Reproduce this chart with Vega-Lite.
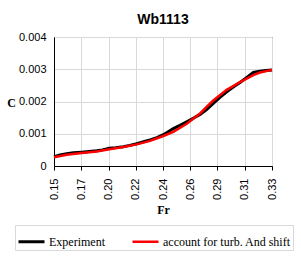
{
  "$schema": "https://vega.github.io/schema/vega-lite/v6.json",
  "width": 218,
  "height": 129,
  "autosize": {"type": "none"},
  "padding": {"left": 54, "top": 37, "right": 29, "bottom": 97},
  "background": "white",
  "title": {"text": "Wb1113", "fontSize": 14, "font": "Liberation Sans", "fontWeight": "bold", "offset": 4, "color": "#000000", "anchor": "middle"},
  "config": {
    "view": {"stroke": "#000000", "strokeWidth": 1},
    "axis": {"gridColor": "#d9d9d9", "gridWidth": 1, "domainColor": "#000000", "labelColor": "#000000", "titleColor": "#000000"}
  },
  "data": {
    "values": [
      {"Series": "Experiment", "Fr": 0.150, "C": 0.00029},
      {"Series": "Experiment", "Fr": 0.155, "C": 0.00034},
      {"Series": "Experiment", "Fr": 0.1605, "C": 0.00038},
      {"Series": "Experiment", "Fr": 0.166, "C": 0.00041},
      {"Series": "Experiment", "Fr": 0.1729, "C": 0.00043},
      {"Series": "Experiment", "Fr": 0.179, "C": 0.00045},
      {"Series": "Experiment", "Fr": 0.1853, "C": 0.00047},
      {"Series": "Experiment", "Fr": 0.190, "C": 0.00050},
      {"Series": "Experiment", "Fr": 0.1957, "C": 0.00055},
      {"Series": "Experiment", "Fr": 0.201, "C": 0.00057},
      {"Series": "Experiment", "Fr": 0.2072, "C": 0.00060},
      {"Series": "Experiment", "Fr": 0.2125, "C": 0.00064},
      {"Series": "Experiment", "Fr": 0.2183, "C": 0.00069},
      {"Series": "Experiment", "Fr": 0.224, "C": 0.00075},
      {"Series": "Experiment", "Fr": 0.2293, "C": 0.00081},
      {"Series": "Experiment", "Fr": 0.235, "C": 0.00088},
      {"Series": "Experiment", "Fr": 0.2403, "C": 0.00097},
      {"Series": "Experiment", "Fr": 0.245, "C": 0.00108},
      {"Series": "Experiment", "Fr": 0.2485, "C": 0.00116},
      {"Series": "Experiment", "Fr": 0.254, "C": 0.00126},
      {"Series": "Experiment", "Fr": 0.2596, "C": 0.00137},
      {"Series": "Experiment", "Fr": 0.265, "C": 0.00148},
      {"Series": "Experiment", "Fr": 0.2706, "C": 0.00160},
      {"Series": "Experiment", "Fr": 0.276, "C": 0.00175},
      {"Series": "Experiment", "Fr": 0.2815, "C": 0.00194},
      {"Series": "Experiment", "Fr": 0.287, "C": 0.00213},
      {"Series": "Experiment", "Fr": 0.2926, "C": 0.00230},
      {"Series": "Experiment", "Fr": 0.298, "C": 0.00245},
      {"Series": "Experiment", "Fr": 0.3036, "C": 0.00259},
      {"Series": "Experiment", "Fr": 0.309, "C": 0.00274},
      {"Series": "Experiment", "Fr": 0.3146, "C": 0.00290},
      {"Series": "Experiment", "Fr": 0.320, "C": 0.00294},
      {"Series": "Experiment", "Fr": 0.325, "C": 0.00296},
      {"Series": "Experiment", "Fr": 0.330, "C": 0.00298},
      {"Series": "account for turb. And shift", "Fr": 0.150, "C": 0.00027},
      {"Series": "account for turb. And shift", "Fr": 0.1605, "C": 0.00035},
      {"Series": "account for turb. And shift", "Fr": 0.1729, "C": 0.00040},
      {"Series": "account for turb. And shift", "Fr": 0.1853, "C": 0.00045},
      {"Series": "account for turb. And shift", "Fr": 0.1957, "C": 0.00052},
      {"Series": "account for turb. And shift", "Fr": 0.2072, "C": 0.00059},
      {"Series": "account for turb. And shift", "Fr": 0.2183, "C": 0.00067},
      {"Series": "account for turb. And shift", "Fr": 0.2293, "C": 0.00078},
      {"Series": "account for turb. And shift", "Fr": 0.2403, "C": 0.00093},
      {"Series": "account for turb. And shift", "Fr": 0.2485, "C": 0.00106},
      {"Series": "account for turb. And shift", "Fr": 0.2596, "C": 0.00131},
      {"Series": "account for turb. And shift", "Fr": 0.2706, "C": 0.00163},
      {"Series": "account for turb. And shift", "Fr": 0.276, "C": 0.00183},
      {"Series": "account for turb. And shift", "Fr": 0.2815, "C": 0.00203},
      {"Series": "account for turb. And shift", "Fr": 0.2926, "C": 0.00236},
      {"Series": "account for turb. And shift", "Fr": 0.3036, "C": 0.00260},
      {"Series": "account for turb. And shift", "Fr": 0.3146, "C": 0.00282},
      {"Series": "account for turb. And shift", "Fr": 0.320, "C": 0.00290},
      {"Series": "account for turb. And shift", "Fr": 0.330, "C": 0.00298}
    ]
  },
  "mark": {"type": "line", "interpolate": "linear"},
  "encoding": {
    "x": {
      "field": "Fr", "type": "quantitative",
      "scale": {"domain": [0.15, 0.33], "nice": false, "zero": false},
      "axis": {
        "values": [0.15, 0.1725, 0.195, 0.2175, 0.24, 0.2625, 0.285, 0.3075, 0.33],
        "labelExpr": "format(datum.value + 0.0001, '.2f')",
        "labelAngle": -90,
        "labelFont": "Liberation Sans", "labelFontSize": 11,
        "tickSize": 4, "tickColor": "#000000", "labelPadding": 8,
        "title": "Fr", "titleFont": "Liberation Serif", "titleFontSize": 12, "titleFontWeight": "bold", "titlePadding": 5
      }
    },
    "y": {
      "field": "C", "type": "quantitative",
      "scale": {"domain": [0, 0.004], "nice": false},
      "axis": {
        "values": [0, 0.001, 0.002, 0.003, 0.004],
        "labelExpr": "datum.value == 0 ? '0' : format(datum.value, '.3f')",
        "labelFont": "Liberation Sans", "labelFontSize": 11,
        "ticks": false, "labelPadding": 8,
        "title": "C", "titleFont": "Liberation Serif", "titleFontSize": 12, "titleFontWeight": "bold",
        "titleAngle": 0, "titleX": -43, "titleY": 65, "titleAlign": "center", "titleBaseline": "middle"
      }
    },
    "color": {
      "field": "Series", "type": "nominal",
      "scale": {"domain": ["Experiment", "account for turb. And shift"], "range": ["#000000", "#ff0000"]},
      "legend": {
        "orient": "none", "legendX": -39, "legendY": 188, "direction": "horizontal", "title": null,
        "symbolType": "stroke", "symbolSize": 676, "symbolStrokeWidth": 3,
        "labelFont": "Liberation Serif", "labelFontSize": 12, "labelColor": "#000000", "labelOffset": 3,
        "columnPadding": 22, "padding": 2, "strokeColor": "#d9d9d9"
      }
    },
    "strokeWidth": {
      "field": "Series", "type": "nominal",
      "scale": {"domain": ["Experiment", "account for turb. And shift"], "range": [3, 2.5]},
      "legend": null
    }
  }
}
